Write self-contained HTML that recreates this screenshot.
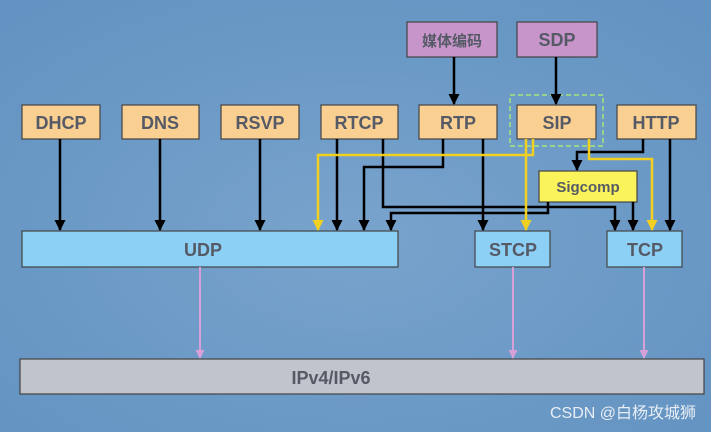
<!DOCTYPE html>
<html><head><meta charset="utf-8"><style>
body{margin:0;width:711px;height:432px;overflow:hidden;background:#6f9dc9}
svg{display:block}
text{font-family:"Liberation Sans","Noto Sans CJK SC",sans-serif;font-weight:bold;fill:#555a66;text-anchor:middle}
</style></head><body>
<svg width="711" height="432" viewBox="0 0 711 432">
<defs>
<radialGradient id="bg" cx="0.5" cy="0.55" r="0.7"><stop offset="0" stop-color="#78a3cc"/><stop offset="1" stop-color="#6393c2"/></radialGradient>
<marker id="ab" markerWidth="11" markerHeight="11" refX="5.5" refY="10" markerUnits="userSpaceOnUse"><path d="M0,0 L11,0 L5.5,11z" fill="#000"/></marker>
<marker id="ay" markerWidth="11" markerHeight="11" refX="5.5" refY="10" markerUnits="userSpaceOnUse"><path d="M0,0 L11,0 L5.5,11z" fill="#f2d020"/></marker>
<marker id="ap" markerWidth="9" markerHeight="9" refX="4.5" refY="8" markerUnits="userSpaceOnUse"><path d="M0,0 L9,0 L4.5,9z" fill="#d7a0d8"/></marker>
</defs>
<rect width="711" height="432" fill="url(#bg)"/>
<g stroke="#444" stroke-width="1.2">
<rect x="407" y="22" width="90" height="35" fill="#c795c9"/>
<rect x="517" y="22" width="80" height="35" fill="#c795c9"/>
<g fill="#f9cf92">
<rect x="22" y="105" width="78" height="34"/><rect x="122" y="105" width="77" height="34"/><rect x="221" y="105" width="78" height="34"/>
<rect x="321" y="105" width="77" height="34"/><rect x="419" y="105" width="78" height="34"/><rect x="517" y="105" width="79" height="34"/><rect x="617" y="105" width="79" height="34"/>
</g>
<rect x="539" y="171" width="98" height="31" fill="#fbf35a"/>
<g fill="#8dd0f6"><rect x="22" y="231" width="376" height="36"/><rect x="475" y="231" width="75" height="36"/><rect x="607" y="231" width="75" height="36"/></g>
<rect x="20" y="359" width="684" height="35" fill="#c0c4cc"/>
</g>
<rect x="510" y="95" width="93" height="51" fill="none" stroke="#a6e67a" stroke-width="1.5" stroke-dasharray="5,3"/>
<g fill="none" stroke="#000" stroke-width="2.5" marker-end="url(#ab)">
<path d="M454 57V104"/><path d="M556 57V104"/>
<path d="M60 139V230"/><path d="M160 139V230"/><path d="M260 139V230"/>
<path d="M337 139V230"/><path d="M383 139V207H615V230"/>
<path d="M443 139V167H364V230"/><path d="M483 139V230"/>
<path d="M643 139V152H577V170"/><path d="M670 139V230"/>
<path d="M548 202V213H391V230"/><path d="M633 202V230"/>
</g>
<g fill="none" stroke="#f2d020" stroke-width="2.5" marker-end="url(#ay)">
<path d="M533 139V155H318V230"/><path d="M526 139V230"/><path d="M589 139V159H652V230"/>
</g>
<g fill="none" stroke="#d7a0d8" stroke-width="2" marker-end="url(#ap)">
<path d="M200 267V358"/><path d="M513 267V358"/><path d="M644 267V358"/>
</g>
<g font-size="18">
<text x="452" y="46" font-size="15">媒体编码</text><text x="557" y="46">SDP</text>
<text x="61" y="129">DHCP</text><text x="160" y="129">DNS</text><text x="260" y="129">RSVP</text>
<text x="359" y="129">RTCP</text><text x="458" y="129">RTP</text><text x="557" y="129">SIP</text><text x="656" y="129">HTTP</text>
<text x="588" y="192" font-size="15">Sigcomp</text>
<text x="203" y="256">UDP</text><text x="513" y="256">STCP</text><text x="645" y="256">TCP</text>
<text x="331" y="384">IPv4/IPv6</text>
</g>
<text x="696" y="418" style="font-weight:normal;fill:#e8eef5;text-anchor:end;font-size:16px">CSDN @白杨攻城狮</text>
</svg>
</body></html>
